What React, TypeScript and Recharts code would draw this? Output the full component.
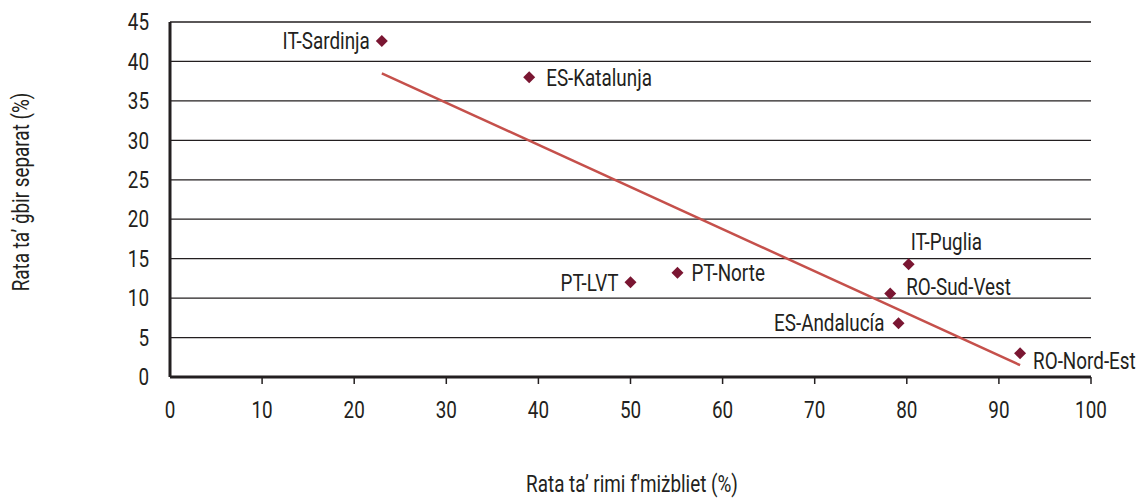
import { ScatterChart, Scatter, XAxis, YAxis, CartesianGrid } from 'recharts'

// regions and their rates
const regions = ['IT-Sardinja', 'ES-Katalunja', 'PT-LVT', 'PT-Norte', 'IT-Puglia', 'RO-Sud-Vest', 'ES-Andalucía', 'RO-Nord-Est']
const landfillRate = [23, 39, 50, 55.1, 80.2, 78.2, 79.1, 92.3]
const collectionRate = [42.6, 38, 12, 13.2, 14.3, 10.6, 6.8, 3]

// fitted trend line end points
const trendX = [23, 92.3]
const trendY = [38.5, 1.5]

const xTicks = [0, 10, 20, 30, 40, 50, 60, 70, 80, 90, 100]
const yTicks = [0, 5, 10, 15, 20, 25, 30, 35, 40, 45]

const points = regions.map((name, i) => ({ name, x: landfillRate[i], y: collectionRate[i] }))
const trend = trendX.map((x, i) => ({ x, y: trendY[i] }))

// where each label sits relative to its marker
const labelPlacement: Record<string, { dx: number; dy: number; anchor: 'start' | 'end' }> = {
  'IT-Sardinja': { dx: -12, dy: 0, anchor: 'end' },
  'ES-Katalunja': { dx: 17, dy: 1, anchor: 'start' },
  'PT-LVT': { dx: -12, dy: 0, anchor: 'end' },
  'PT-Norte': { dx: 14, dy: 0, anchor: 'start' },
  'IT-Puglia': { dx: 2, dy: -22, anchor: 'start' },
  'RO-Sud-Vest': { dx: 16, dy: -7, anchor: 'start' },
  'ES-Andalucía': { dx: -14, dy: -1, anchor: 'end' },
  'RO-Nord-Est': { dx: 13, dy: 7, anchor: 'start' },
}

// no condensed font installed, so squeeze Roboto horizontally
const FONT = 'Roboto, "Noto Sans", sans-serif'
const FONT_SIZE = 23
const SQUEEZE = 0.82
const TEXT = '#231F20'

const CText = ({ x, y, anchor, children }: { x: number; y: number; anchor: 'start' | 'middle' | 'end'; children: any }) => (
  <text
    transform={`translate(${x},${y}) scale(${SQUEEZE},1)`}
    textAnchor={anchor}
    dominantBaseline="central"
    fontFamily={FONT}
    fontSize={FONT_SIZE}
    fill={TEXT}
  >
    {children}
  </text>
)

const PointShape = (props: any) => {
  const { cx = 0, cy = 0, payload } = props
  const p = labelPlacement[payload?.name] ?? { dx: 12, dy: 0, anchor: 'start' }
  const r = 6
  return (
    <g>
      <polygon
        points={`${cx},${cy - r} ${cx + r},${cy} ${cx},${cy + r} ${cx - r},${cy}`}
        fill="#7A1632"
      />
      <CText x={cx + p.dx} y={cy + p.dy} anchor={p.anchor}>
        {payload?.name}
      </CText>
    </g>
  )
}

const XTick = (props: any) => {
  const { x, y, payload } = props
  return (
    <g>
      {payload.value !== 0 && <line x1={x} x2={x} y1={y - 8} y2={y - 1} stroke={TEXT} strokeWidth={1.5} />}
      <CText x={x} y={y + 25} anchor="middle">
        {payload.value}
      </CText>
    </g>
  )
}

const YTick = (props: any) => {
  const { y, payload } = props
  return (
    <CText x={149} y={y} anchor="end">
      {payload.value}
    </CText>
  )
}

const titleStyle = {
  position: 'absolute' as const,
  whiteSpace: 'nowrap' as const,
  fontFamily: FONT,
  fontSize: FONT_SIZE,
  color: TEXT,
  lineHeight: 1,
}

export default function App() {
  return (
    <div style={{ position: 'absolute', left: 0, top: 0, width: 1145, height: 498, background: '#fff' }}>
      <ScatterChart width={1145} height={498} margin={{ top: 22, right: 54, left: 110, bottom: 120 }}>
        <CartesianGrid vertical={false} stroke={TEXT} strokeWidth={1.3} />
        <XAxis
          type="number"
          dataKey="x"
          domain={[0, 100]}
          ticks={xTicks}
          interval={0}
          tick={<XTick />}
          tickLine={false}
          axisLine={{ stroke: TEXT, strokeWidth: 3 }}
          height={1}
        />
        <YAxis
          type="number"
          dataKey="y"
          domain={[0, 45]}
          ticks={yTicks}
          interval={0}
          width={60}
          tickLine={false}
          axisLine={{ stroke: TEXT, strokeWidth: 3 }}
          tick={<YTick />}
        />
        <Scatter
          data={trend}
          line={{ stroke: '#C5504B', strokeWidth: 2.5 }}
          shape={() => <g />}
          isAnimationActive={false}
        />
        <Scatter data={points} shape={<PointShape />} isAnimationActive={false} />
      </ScatterChart>
      <div
        style={{
          ...titleStyle,
          left: 21,
          top: 192,
          transform: `translate(-50%, -50%) rotate(-90deg) scaleX(${SQUEEZE})`,
        }}
      >
        Rata ta’ ġbir separat (%)
      </div>
      <div
        style={{
          ...titleStyle,
          left: 632,
          top: 484,
          transform: `translate(-50%, -50%) scaleX(${SQUEEZE})`,
        }}
      >
        Rata ta’ rimi f'miżbliet (%)
      </div>
    </div>
  )
}
